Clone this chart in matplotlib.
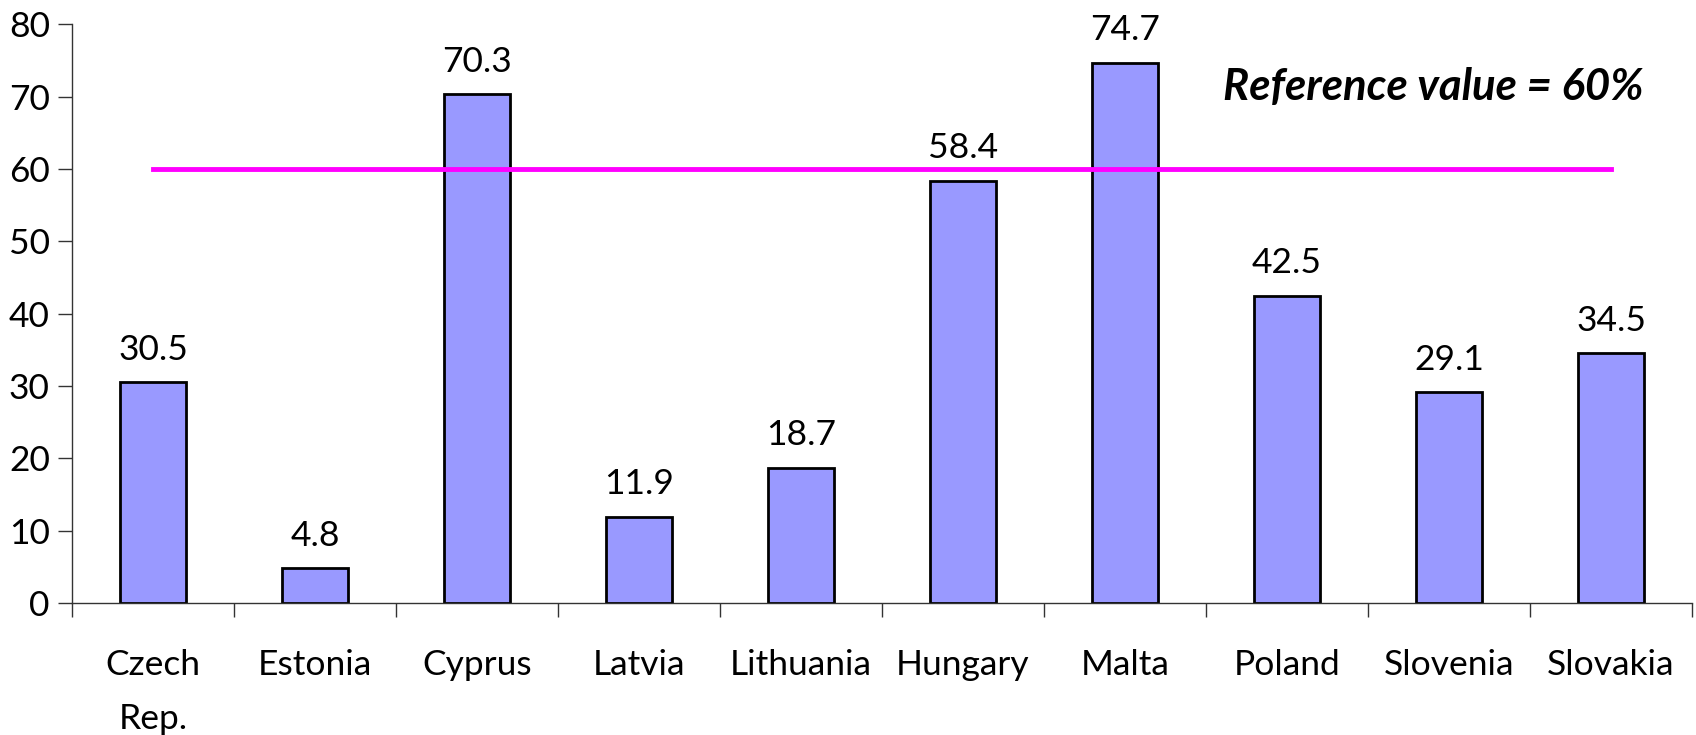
import matplotlib
matplotlib.use("Agg")
import matplotlib.pyplot as plt
import numpy as np

categories = ["Czech\nRep.", "Estonia", "Cyprus", "Latvia", "Lithuania",
              "Hungary", "Malta", "Poland", "Slovenia", "Slovakia"]
values = [30.5, 4.8, 70.3, 11.9, 18.7, 58.4, 74.7, 42.5, 29.1, 34.5]
reference_value = 60
yticks = [0, 10, 20, 30, 40, 50, 60, 70, 80]

plt.rcParams['font.family'] = ['Lato', 'DejaVu Sans']

fig = plt.figure(figsize=(16.96, 7.35), dpi=100)
ax = fig.add_axes([72/1696, 1-603/735, (1692-72)/1696, (603-24.3)/735])

x = np.arange(len(categories))
ax.bar(x, values, width=0.41, color="#9999FF", edgecolor="black", linewidth=2, zorder=2)
ax.plot([x[0], x[-1]], [reference_value, reference_value], color="#FF00FF", linewidth=3.5, zorder=3)

for xi, v in zip(x, values):
    ax.annotate(f"{v}", (xi, v), xytext=(0, 12), textcoords="offset points",
                ha="center", va="bottom", fontsize=25.5)

ax.text(0.970, 0.892, "Reference value = 60%", transform=ax.transAxes,
        ha="right", va="center", fontsize=31.5, fontweight="bold", fontstyle="italic")

ax.set_xlim(-0.5, len(categories) - 0.5)
ax.set_ylim(0, 80)
ax.set_yticks(yticks)
ax.set_yticklabels([str(t) for t in yticks], fontsize=25.5)
ax.set_xticks(x)
ax.set_xticklabels(categories, fontsize=25.5, linespacing=1.85)
ax.set_xticks(np.arange(len(categories) + 1) - 0.5, minor=True)
ax.tick_params(axis="x", which="major", length=0, pad=33)
ax.tick_params(axis="x", which="minor", length=10, width=1, color="#333333", direction="out")
ax.tick_params(axis="y", length=10, width=1, color="#333333", direction="out", pad=6)
for s in ["top", "right"]:
    ax.spines[s].set_visible(False)
for s in ["left", "bottom"]:
    ax.spines[s].set_color("#333333")
    ax.spines[s].set_linewidth(1)

fig.savefig("out.png", dpi=100)
